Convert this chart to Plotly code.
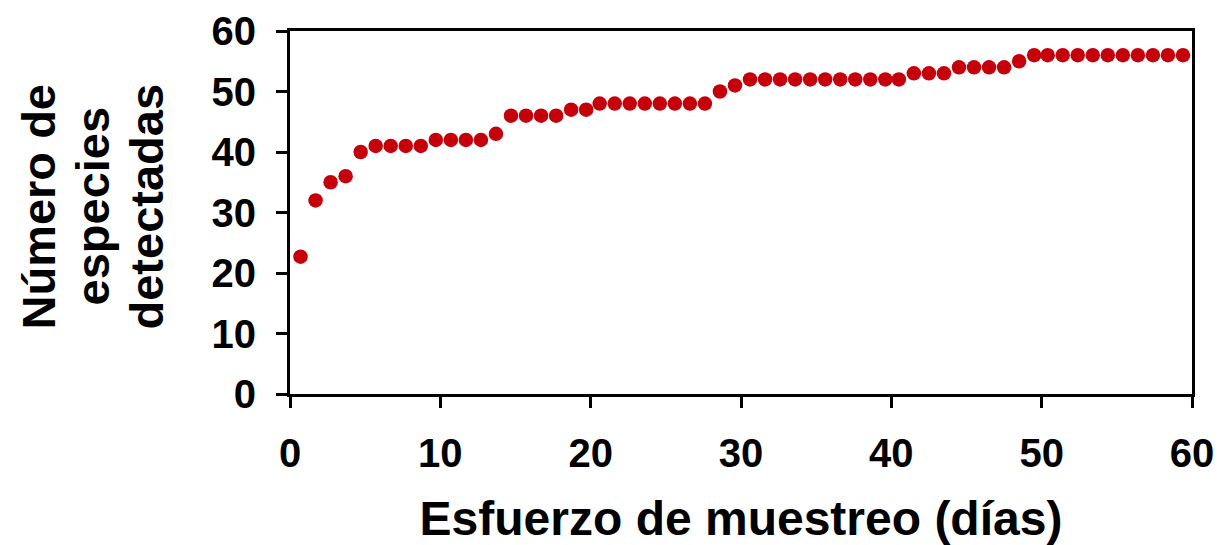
import plotly.graph_objects as go

# Values
dias = [0.7, 1.7, 2.7, 3.7, 4.7, 5.7, 6.7, 7.7, 8.7, 9.7,
        10.7, 11.7, 12.7, 13.7, 14.7, 15.7, 16.7, 17.7, 18.7, 19.7,
        20.6, 21.6, 22.6, 23.6, 24.6, 25.6, 26.6, 27.6, 28.6, 29.6,
        30.6, 31.6, 32.6, 33.6, 34.6, 35.6, 36.6, 37.6, 38.6, 39.6,
        40.5, 41.5, 42.5, 43.5, 44.5, 45.5, 46.5, 47.5, 48.5, 49.5,
        50.4, 51.4, 52.4, 53.4, 54.4, 55.4, 56.4, 57.4, 58.4, 59.4]
especies = [22.7, 32, 35, 36, 40,
            41, 41, 41, 41,
            42, 42, 42, 42,
            43,
            46, 46, 46, 46,
            47, 47,
            48, 48, 48, 48, 48, 48, 48, 48,
            50, 51,
            52, 52, 52, 52, 52, 52, 52, 52, 52, 52, 52,
            53, 53, 53,
            54, 54, 54, 54,
            55,
            56, 56, 56, 56, 56, 56, 56, 56, 56, 56, 56]
tick_vals = [0, 10, 20, 30, 40, 50, 60]
y_title_lines = ["Número de", "especies", "detectadas"]
x_title = "Esfuerzo de muestreo (días)"

FONT = "Liberation Sans, Arial, sans-serif"

fig = go.Figure()
fig.add_trace(go.Scatter(
    x=dias, y=especies, mode="markers",
    marker=dict(color="#C5000B", size=14.5, line=dict(width=0)),
    cliponaxis=False, showlegend=False,
))

axis_common = dict(
    showline=True, linecolor="black", linewidth=3, mirror=True,
    ticks="outside", ticklen=11, tickwidth=3, tickcolor="black",
    showgrid=False, zeroline=False, automargin=False,
    tickfont=dict(family=FONT, size=40, color="black", weight="bold"),
    tickvals=tick_vals,
)

fig.update_layout(
    width=1217, height=537,
    margin=dict(l=282, r=33, t=23, b=151),
    paper_bgcolor="white", plot_bgcolor="white",
    font=dict(family=FONT, color="black"),
    xaxis=dict(range=[0, 60], title=dict(text="<b>" + x_title + "</b>",
               font=dict(family=FONT, size=48, color="black"), standoff=28),
               ticklabelstandoff=11, **axis_common),
    yaxis=dict(range=[0, 60], ticklabelstandoff=12, **axis_common),
)

for shift, line in zip([-252, -198, -144], y_title_lines):
    fig.add_annotation(
        text="<b>" + line + "</b>", xref="paper", yref="paper",
        x=0, y=0.5, xshift=shift, yshift=6, textangle=-90,
        xanchor="center", yanchor="middle", showarrow=False,
        font=dict(family=FONT, size=47, color="black"),
    )

fig.write_html("out.html")
